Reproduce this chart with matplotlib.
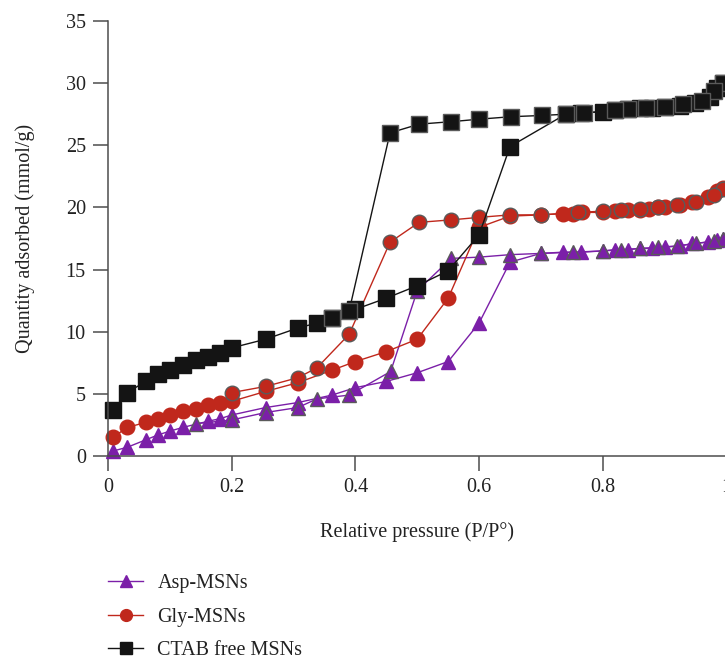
import matplotlib
matplotlib.use("Agg")
import matplotlib.pyplot as plt
from matplotlib.lines import Line2D


# Asp-MSNs, adsorption / desorption branch
asp_ads_x = [0.008, 0.031, 0.061, 0.081, 0.10, 0.121, 0.162, 0.181, 0.20, 0.255, 0.307, 0.362,
             0.40, 0.45, 0.50, 0.55, 0.60, 0.65, 0.70, 0.735, 0.765, 0.80, 0.82, 0.84, 0.86,
             0.88, 0.90, 0.925, 0.945, 0.97, 0.985, 0.995]
asp_ads_y = [0.4, 0.7, 1.3, 1.7, 2.0, 2.3, 2.8, 3.0, 3.3, 3.9, 4.3, 4.9,
             5.5, 6.0, 6.7, 7.6, 10.7, 15.6, 16.3, 16.4, 16.4, 16.5, 16.6, 16.6, 16.7,
             16.7, 16.8, 16.9, 17.1, 17.2, 17.4, 17.5]
asp_des_x = [0.995, 0.98, 0.95, 0.92, 0.89, 0.86, 0.83, 0.80, 0.752, 0.70, 0.65, 0.60,
             0.555, 0.50, 0.457, 0.39, 0.338, 0.307, 0.255, 0.20, 0.142]
asp_des_y = [17.5, 17.3, 17.1, 16.9, 16.8, 16.7, 16.6, 16.5, 16.4, 16.3, 16.2, 16.0,
             15.9, 13.3, 6.8, 4.9, 4.6, 3.9, 3.5, 2.9, 2.6]

# Gly-MSNs
gly_ads_x = [0.008, 0.031, 0.061, 0.081, 0.10, 0.121, 0.142, 0.162, 0.181, 0.20, 0.255, 0.307,
             0.362, 0.40, 0.45, 0.50, 0.55, 0.60, 0.65, 0.70, 0.735, 0.752, 0.766, 0.80,
             0.82, 0.84, 0.86, 0.875, 0.89, 0.90, 0.925, 0.945, 0.97, 0.985, 0.995]
gly_ads_y = [1.5, 2.3, 2.7, 3.0, 3.3, 3.6, 3.8, 4.1, 4.3, 4.4, 5.2, 5.9,
             6.9, 7.6, 8.4, 9.4, 12.7, 18.4, 19.3, 19.4, 19.5, 19.5, 19.6, 19.6,
             19.7, 19.8, 19.8, 19.9, 20.0, 20.0, 20.2, 20.4, 20.8, 21.3, 21.6]
gly_des_x = [0.995, 0.98, 0.95, 0.92, 0.89, 0.86, 0.83, 0.80, 0.76, 0.70, 0.65, 0.60,
             0.555, 0.503, 0.456, 0.39, 0.338, 0.307, 0.255, 0.20]
gly_des_y = [21.5, 21.0, 20.4, 20.2, 20.0, 19.9, 19.8, 19.7, 19.6, 19.4, 19.4, 19.2,
             19.0, 18.8, 17.2, 9.8, 7.1, 6.3, 5.6, 5.1]

# CTAB free MSNs
ctab_ads_x = [0.008, 0.031, 0.061, 0.081, 0.10, 0.121, 0.142, 0.162, 0.181, 0.20, 0.255, 0.307,
              0.338, 0.362, 0.40, 0.45, 0.50, 0.55, 0.60, 0.65, 0.74, 0.765, 0.80, 0.82,
              0.84, 0.86, 0.88, 0.90, 0.925, 0.949, 0.973, 0.985, 0.995]
ctab_ads_y = [3.7, 5.1, 6.0, 6.6, 6.9, 7.3, 7.7, 8.0, 8.3, 8.7, 9.4, 10.3,
              10.7, 11.1, 11.8, 12.7, 13.7, 14.9, 17.8, 24.9, 27.5, 27.6, 27.7, 27.8,
              27.9, 28.0, 28.0, 28.1, 28.2, 28.4, 28.9, 29.6, 30.0]
ctab_des_x = [0.995, 0.98, 0.96, 0.93, 0.90, 0.87, 0.84, 0.82, 0.77, 0.74, 0.702, 0.652,
              0.60, 0.555, 0.503, 0.456, 0.39, 0.362]
ctab_des_y = [30.0, 29.4, 28.6, 28.3, 28.1, 28.0, 27.9, 27.8, 27.6, 27.5, 27.4, 27.3,
              27.1, 26.9, 26.7, 26.0, 11.7, 11.1]

labels = ["Asp-MSNs", "Gly-MSNs", "CTAB free MSNs"]
colors = ["#7b1fa8", "#c0281c", "#141414"]
markers = ["^", "o", "s"]
x_ticks = [0, 0.2, 0.4, 0.6, 0.8, 1.0]
x_tick_labels = ["0", "0.2", "0.4", "0.6", "0.8", "1"]
y_ticks = [0, 5, 10, 15, 20, 25, 30, 35]

FONT = "Liberation Serif"
FS = 14.5
GRAY = "#4d4d4d"
TXT = "#222222"
# marker size per marker type
MS = {"^": 10.5, "o": 10.5, "s": 11}


def draw_branch(ax, x, y, color, marker, edge):
    ax.plot(x, y, color=color, lw=1.0, marker=marker, ms=MS[marker],
            mfc=color, mec=edge, mew=1.0, clip_on=False)


def main():
    plt.rcParams["font.family"] = FONT
    fig = plt.figure(figsize=(7.25, 6.6), dpi=100)
    ax = fig.add_axes([108 / 725, 204 / 660, 618.5 / 725, 435 / 660])

    series = [
        (asp_ads_x, asp_ads_y, asp_des_x, asp_des_y),
        (gly_ads_x, gly_ads_y, gly_des_x, gly_des_y),
        (ctab_ads_x, ctab_ads_y, ctab_des_x, ctab_des_y),
    ]
    for i, (ax_x, ax_y, dx, dy) in enumerate(series):
        draw_branch(ax, ax_x, ax_y, colors[i], markers[i], colors[i])
        draw_branch(ax, dx, dy, colors[i], markers[i], "#5a5a5a")

    ax.set_xlim(0, 1)
    ax.set_ylim(0, 35)
    ax.set_xticks(x_ticks)
    ax.set_xticklabels(x_tick_labels)
    ax.set_yticks(y_ticks)
    for s in ["top", "right"]:
        ax.spines[s].set_visible(False)
    for s in ["left", "bottom"]:
        ax.spines[s].set_color(GRAY)
        ax.spines[s].set_linewidth(1.1)
    ax.tick_params(direction="out", length=11, width=1.1, color=GRAY, pad=5,
                   labelsize=FS, labelcolor=TXT)

    ax.set_xlabel("Relative pressure (P/P°)", fontsize=FS, color=TXT)
    ax.set_ylabel("Quantity adsorbed (mmol/g)", fontsize=FS, color=TXT)
    ax.xaxis.set_label_coords(0.5, -0.152)
    ax.yaxis.set_label_coords(-0.118, 0.5)

    handles = [Line2D([], [], color=c, lw=1.0, marker=m, ms=8.5, mfc=c, mec=c)
               for c, m in zip(colors, markers)]
    fig.legend(handles, labels, loc="upper left", bbox_to_anchor=(108 / 725, 0.13),
               frameon=False, fontsize=FS, handlelength=1.75, handletextpad=0.7,
               labelspacing=0.72, borderpad=0, borderaxespad=0, labelcolor=TXT)

    fig.savefig("out.png", dpi=100)


if __name__ == "__main__":
    main()
